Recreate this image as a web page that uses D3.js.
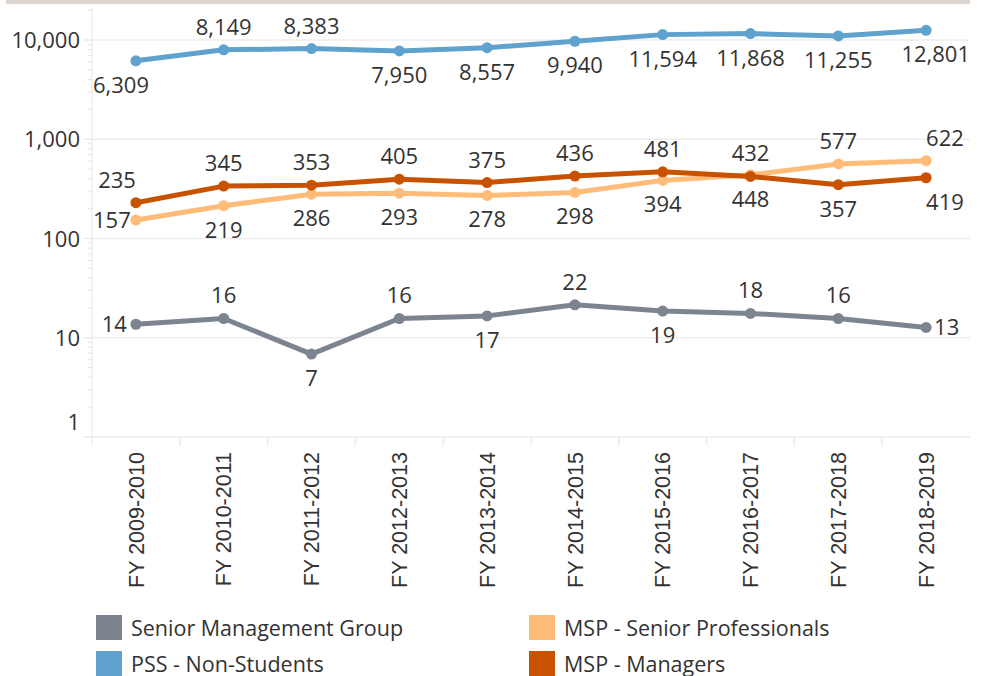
<!DOCTYPE html>
<html>
<head>
<meta charset="utf-8">
<script src="https://cdn.jsdelivr.net/npm/d3@7"></script>
<style>
  body { margin: 0; background: #fff; }
  svg text { font-family: "Open Sans", sans-serif; fill: #333; }
</style>
</head>
<body>
<div id="chart"></div>
<script>
// Headcount by staff group, log scale
const years = ['FY 2009-2010', 'FY 2010-2011', 'FY 2011-2012', 'FY 2012-2013', 'FY 2013-2014',
               'FY 2014-2015', 'FY 2015-2016', 'FY 2016-2017', 'FY 2017-2018', 'FY 2018-2019'];

const pssValues = [6309, 8149, 8383, 7950, 8557, 9940, 11594, 11868, 11255, 12801];
const managerValues = [235, 345, 353, 405, 375, 436, 481, 432, 357, 419];
const seniorProfValues = [157, 219, 286, 293, 278, 298, 394, 448, 577, 622];
const smgValues = [14, 16, 7, 16, 17, 22, 19, 18, 16, 13];

const yTickValues = [1, 10, 100, 1000, 10000];

// label placement per point: t = above, b = below, l = left, r = right
const pssLabelPos = ['b', 't', 't', 'b', 'b', 'b', 'b', 'b', 'b', 'b'];
const managerLabelPos = ['t', 't', 't', 't', 't', 't', 't', 't', 'b', 'b'];
const seniorProfLabelPos = ['l', 'b', 'b', 'b', 'b', 'b', 'b', 'b', 't', 't'];
const smgLabelPos = ['l', 't', 'b', 't', 'b', 't', 'b', 't', 't', 'r'];

const series = [
    {name: 'PSS - Non-Students', color: '#5fa2ce', values: pssValues, pos: pssLabelPos},
    {name: 'MSP - Senior Professionals', color: '#ffbc79', values: seniorProfValues, pos: seniorProfLabelPos},
    {name: 'MSP - Managers', color: '#c85200', values: managerValues, pos: managerLabelPos},
    {name: 'Senior Management Group', color: '#7b848f', values: smgValues, pos: smgLabelPos}
];

const legendItems = [
    {name: 'Senior Management Group', color: '#7b848f'},
    {name: 'MSP - Senior Professionals', color: '#ffbc79'},
    {name: 'PSS - Non-Students', color: '#5fa2ce'},
    {name: 'MSP - Managers', color: '#c85200'}
];

const W = 990, H = 676;
const plotLeft = 92, plotRight = 970, plotTop = 8, plotBottom = 437;

const svg = d3.select('#chart').append('svg')
    .attr('width', W)
    .attr('height', H);

// top strip
svg.append('rect')
    .attr('x', 6).attr('y', 0)
    .attr('width', plotRight - 6).attr('height', 4)
    .attr('fill', '#ddd6d0');

const x = d3.scaleBand()
    .domain(years)
    .range([plotLeft, plotRight]);

const y = d3.scaleLog()
    .domain([1, 10000])
    .range([plotBottom, 40]);

// gridlines
svg.append('g')
    .selectAll('line')
    .data(yTickValues.slice(1))
    .join('line')
    .attr('x1', plotLeft).attr('x2', plotRight)
    .attr('y1', d => y(d)).attr('y2', d => y(d))
    .attr('stroke', '#ededed')
    .attr('stroke-width', 1.5);

// y axis line + minor ticks
svg.append('line')
    .attr('x1', plotLeft).attr('x2', plotLeft)
    .attr('y1', plotTop).attr('y2', plotBottom + 8)
    .attr('stroke', '#e6e6e6');

const minorTicks = [];
for (let p = 0; p <= 4; p++) {
    for (let m = 1; m <= 9; m++) {
        const v = m * Math.pow(10, p);
        if (y(v) >= plotTop) minorTicks.push(v);
    }
}

svg.append('g')
    .selectAll('line')
    .data(minorTicks)
    .join('line')
    .attr('x1', d => yTickValues.includes(d) ? plotLeft - 8 : plotLeft - 4)
    .attr('x2', plotLeft)
    .attr('y1', d => y(d)).attr('y2', d => y(d))
    .attr('stroke', '#e3e3e3');

svg.append('g')
    .selectAll('text')
    .data(yTickValues)
    .join('text')
    .attr('x', 80)
    .attr('y', d => d === 1 ? y(d) - 7 : y(d) + 8)
    .attr('text-anchor', 'end')
    .style('font-size', '22px')
    .text(d => d3.format(',')(d));

// x axis
svg.append('line')
    .attr('x1', plotLeft - 9).attr('x2', plotRight)
    .attr('y1', plotBottom).attr('y2', plotBottom)
    .attr('stroke', '#ececec')
    .attr('stroke-width', 1.5);

svg.append('g')
    .selectAll('line')
    .data(years.slice(1))
    .join('line')
    .attr('x1', d => x(d)).attr('x2', d => x(d))
    .attr('y1', plotBottom).attr('y2', plotBottom + 9)
    .attr('stroke', '#ececec')
    .attr('stroke-width', 1.5);

svg.append('g')
    .selectAll('text')
    .data(years)
    .join('text')
    .attr('transform', d => `translate(${x(d) + x.bandwidth() / 2},452) rotate(-90)`)
    .attr('text-anchor', 'end')
    .attr('dy', '0.36em')
    .style('font-family', '"Liberation Sans", Arial, sans-serif')
    .style('font-size', '21.5px')
    .text(d => d);

// lines
const line = d3.line()
    .x((d, i) => x(years[i]) + x.bandwidth() / 2)
    .y(d => y(d) + 1);

const plot = svg.append('g');

series.forEach(s => {
    plot.append('path')
        .datum(s.values)
        .attr('d', line)
        .attr('fill', 'none')
        .attr('stroke', s.color)
        .attr('stroke-width', 5)
        .attr('stroke-linejoin', 'round');

    plot.selectAll(null)
        .data(s.values)
        .join('circle')
        .attr('cx', (d, i) => x(years[i]) + x.bandwidth() / 2)
        .attr('cy', d => y(d) + 1)
        .attr('r', 5.5)
        .attr('fill', s.color);
});

// data labels
const labels = svg.append('g');
series.forEach(s => {
    s.values.forEach((v, i) => {
        const cx = x(years[i]) + x.bandwidth() / 2;
        const cy = y(v) + 1;
        const pos = s.pos[i];
        const t = labels.append('text')
            .style('font-size', '22px')
            .text(d3.format(',')(v));
        const w = t.node().getComputedTextLength();
        let tx, ty;
        if (pos === 'l') {
            tx = cx - 9 - w;
            ty = cy + 8;
        } else if (pos === 'r') {
            tx = cx + 8;
            ty = cy + 8;
        } else {
            ty = pos === 't' ? cy - 15 : cy + 32;
            if (i === 0) tx = cx - w;
            else if (i === years.length - 1) tx = cx;
            else tx = cx - w / 2;
        }
        tx = Math.max(plotLeft + 1, Math.min(plotRight - w, tx));
        t.attr('x', tx).attr('y', ty);
    });
});

// legend
const legend = svg.append('g');
legendItems.forEach((d, i) => {
    const lx = i % 2 === 0 ? 96 : 529;
    const ly = i < 2 ? 615 : 651;
    legend.append('rect')
        .attr('x', lx).attr('y', ly)
        .attr('width', 26).attr('height', 25)
        .attr('fill', d.color);
    legend.append('text')
        .attr('x', lx + 35)
        .attr('y', ly + 21)
        .style('font-size', '21.5px')
        .text(d.name);
});
</script>
</body>
</html>
